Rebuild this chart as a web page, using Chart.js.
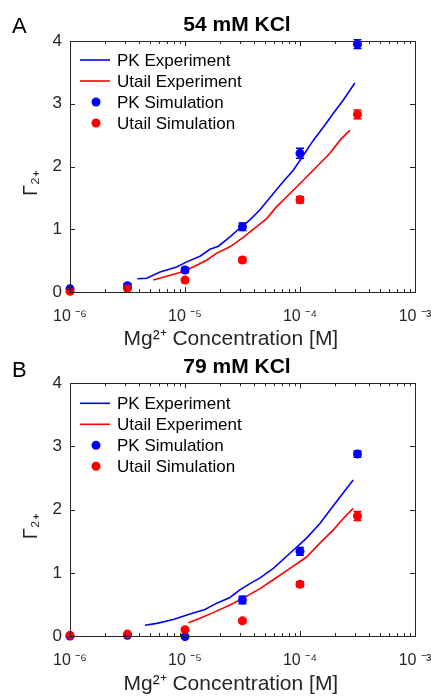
<!DOCTYPE html>
<html><head><meta charset="utf-8">
<script src="https://cdn.jsdelivr.net/npm/chart.js@4.4.1/dist/chart.umd.min.js"></script>
<style>
html,body{margin:0;padding:0;background:#fff;}
#wrap{position:relative;width:431px;height:697px;overflow:hidden;background:#fff;}
canvas{position:absolute;left:0;}
</style></head><body>
<div id="wrap">
<canvas id="cA" width="431" height="352" style="top:0px;width:431px;height:352px"></canvas>
<canvas id="cB" width="431" height="352" style="top:345px;width:431px;height:352px"></canvas>
</div>
<script>
// ---------- DATA ----------
const xTickValues = [1e-6, 1e-5, 1e-4, 1e-3];
const xTickLabels = ['10 ⁻⁶', '10 ⁻⁵', '10 ⁻⁴', '10 ⁻³'];
const yTickValues = [0, 1, 2, 3, 4];

const seriesNames = ['PK Experiment', 'Utail Experiment', 'PK Simulation', 'Utail Simulation'];

// Panel A: 54 mM KCl
const aPKExpX = [3.85e-6, 4.65e-6, 6.07e-6, 8.47e-6, 1.035e-5, 1.35e-5, 1.65e-5, 1.95e-5, 2.46e-5, 3.0e-5, 3.67e-5, 4.49e-5, 5.86e-5, 7.16e-5, 8.75e-5, 1.07e-4, 1.31e-4, 1.6e-4, 1.95e-4, 2.38e-4, 3.0e-4];
const aPKExpY = [0.21, 0.22, 0.32, 0.40, 0.48, 0.57, 0.68, 0.73, 0.88, 1.02, 1.15, 1.31, 1.57, 1.76, 1.94, 2.18, 2.42, 2.63, 2.85, 3.06, 3.33];
const aUtExpX = [5.3e-6, 6.92e-6, 9.06e-6, 1.18e-5, 1.55e-5, 1.89e-5, 2.46e-5, 3.21e-5, 4.2e-5, 5.13e-5, 6.27e-5, 8.18e-5, 1.07e-4, 1.40e-4, 1.82e-4, 2.23e-4, 2.72e-4];
const aUtExpY = [0.19, 0.25, 0.31, 0.40, 0.51, 0.62, 0.72, 0.87, 1.04, 1.17, 1.36, 1.57, 1.78, 2.00, 2.21, 2.42, 2.58];
const simX = [1e-6, 3.16e-6, 1e-5, 3.16e-5, 1e-4, 3.16e-4];
const aPKSimY = [0.05, 0.10, 0.35, 1.04, 2.21, 3.95];
const aPKSimErr = [0.02, 0.03, 0.04, 0.06, 0.08, 0.07];
const aUtSimY = [0.01, 0.06, 0.19, 0.51, 1.47, 2.83];
const aUtSimErr = [0.01, 0.02, 0.03, 0.04, 0.05, 0.07];

// Panel B: 79 mM KCl
const bPKExpX = [4.49e-6, 5.68e-6, 7.91e-6, 1.104e-5, 1.49e-5, 1.89e-5, 2.46e-5, 3.0e-5, 3.67e-5, 4.49e-5, 5.86e-5, 8.18e-5, 1.14e-4, 1.49e-4, 1.82e-4, 2.23e-4, 2.9e-4];
const bPKExpY = [0.17, 0.20, 0.26, 0.35, 0.42, 0.52, 0.61, 0.73, 0.83, 0.92, 1.07, 1.31, 1.55, 1.78, 1.99, 2.20, 2.47];
const bUtExpX = [1.07e-5, 1.35e-5, 1.76e-5, 2.46e-5, 3.21e-5, 4.49e-5, 5.86e-5, 8.18e-5, 1.14e-4, 1.49e-4, 1.95e-4, 2.38e-4, 2.9e-4];
const bUtExpY = [0.21, 0.28, 0.37, 0.49, 0.60, 0.75, 0.89, 1.07, 1.25, 1.47, 1.68, 1.86, 2.02];
const bPKSimY = [0.00, 0.01, -0.01, 0.57, 1.34, 2.88];
const bPKSimErr = [0.01, 0.01, 0.01, 0.06, 0.06, 0.05];
const bUtSimY = [0.01, 0.03, 0.10, 0.24, 0.82, 1.90];
const bUtSimErr = [0.01, 0.01, 0.02, 0.03, 0.04, 0.07];

// ---------- STYLE ----------
const BLUE = '#0000ff', RED = '#ff0000', AX = '#262626';
const FONT = "'Liberation Sans', Arial, Helvetica, sans-serif";

function pts(xs, ys) { return xs.map((x, i) => ({x: x, y: ys[i]})); }

const decoPlugin = {
  id: 'deco',
  afterDraw(chart, args, opts) {
    const ctx = chart.ctx, a = chart.chartArea;
    const xs = chart.scales.x, ys = chart.scales.y;
    ctx.save();
    // frame
    ctx.strokeStyle = AX; ctx.lineWidth = 1;
    ctx.strokeRect(Math.round(a.left) + 0.5, Math.round(a.top) + 0.5, Math.round(a.right - a.left), Math.round(a.bottom - a.top));
    ctx.beginPath();
    // x ticks (major & minor), bottom and top, inward
    for (let d = 0; d < xTickValues.length; d++) {
      const dec = xTickValues[d];
      const px = Math.round(xs.getPixelForValue(dec)) + 0.5;
      ctx.moveTo(px, a.bottom); ctx.lineTo(px, a.bottom - 5);
      ctx.moveTo(px, a.top); ctx.lineTo(px, a.top + 5);
      if (d < xTickValues.length - 1) {
        for (let m = 2; m <= 9; m++) {
          const q = Math.round(xs.getPixelForValue(dec * m)) + 0.5;
          ctx.moveTo(q, a.bottom); ctx.lineTo(q, a.bottom - 3);
          ctx.moveTo(q, a.top); ctx.lineTo(q, a.top + 3);
        }
      }
    }
    yTickValues.forEach(v => {
      const py = Math.round(ys.getPixelForValue(v)) + 0.5;
      ctx.moveTo(a.left, py); ctx.lineTo(a.left + 5, py);
      ctx.moveTo(a.right, py); ctx.lineTo(a.right - 5, py);
    });
    ctx.stroke();
    // legend
    ctx.font = '17px ' + FONT;
    ctx.textBaseline = 'middle';
    ctx.textAlign = 'left';
    chart.data.datasets.forEach((ds, i) => {
      const y = a.top + opts.legendTop + i * 21;
      if (ds.showLine) {
        ctx.strokeStyle = ds.borderColor; ctx.lineWidth = 1.6;
        ctx.beginPath(); ctx.moveTo(80, y); ctx.lineTo(110, y); ctx.stroke();
      } else {
        ctx.fillStyle = ds.backgroundColor;
        ctx.beginPath(); ctx.arc(96, y, 4.5, 0, Math.PI * 2); ctx.fill();
      }
      ctx.fillStyle = '#000';
      ctx.fillText(ds.label, 117, y + 1);
    });
    // title and panel letter
    ctx.fillStyle = '#000';
    ctx.textBaseline = 'alphabetic';
    ctx.textAlign = 'center';
    ctx.font = 'bold 21px ' + FONT;
    ctx.fillText(opts.title, opts.titleX, opts.titleBase);
    ctx.textAlign = 'left';
    ctx.font = '22px ' + FONT;
    ctx.fillText(opts.letter, 12, opts.letterBase);
    ctx.restore();
  },
  afterDatasetsDraw(chart) {
    const ctx = chart.ctx, xs = chart.scales.x, ys = chart.scales.y;
    ctx.save();
    chart.data.datasets.forEach(ds => {
      if (!ds.errors) return;
      ctx.strokeStyle = ds.backgroundColor; ctx.lineWidth = 1.5;
      ctx.beginPath();
      ds.data.forEach((p, i) => {
        const px = xs.getPixelForValue(p.x);
        const y1 = ys.getPixelForValue(p.y - ds.errors[i]);
        const y2 = ys.getPixelForValue(p.y + ds.errors[i]);
        ctx.moveTo(px, y1); ctx.lineTo(px, y2);
        ctx.moveTo(px - 4, y1); ctx.lineTo(px + 4, y1);
        ctx.moveTo(px - 4, y2); ctx.lineTo(px + 4, y2);
      });
      ctx.stroke();
    });
    ctx.restore();
  }
};

function makeChart(id, cfg) {
  const H = 352;
  const datasets = [
    {label: seriesNames[0], data: pts(cfg.pkX, cfg.pkY), showLine: true, borderColor: BLUE, backgroundColor: BLUE, borderWidth: 1.6, pointRadius: 0, order: 3, tension: 0},
    {label: seriesNames[1], data: pts(cfg.utX, cfg.utY), showLine: true, borderColor: RED, backgroundColor: RED, borderWidth: 1.6, pointRadius: 0, order: 3, tension: 0},
    {label: seriesNames[2], data: pts(simX, cfg.pkSimY), errors: cfg.pkSimErr, showLine: false, backgroundColor: BLUE, borderColor: BLUE, borderWidth: 0, pointRadius: 4.5, order: 2, clip: false},
    {label: seriesNames[3], data: pts(simX, cfg.utSimY), errors: cfg.utSimErr, showLine: false, backgroundColor: RED, borderColor: RED, borderWidth: 0, pointRadius: 4.5, order: 1, clip: false}
  ];
  return new Chart(document.getElementById(id), {
    type: 'scatter',
    data: {datasets},
    plugins: [decoPlugin],
    options: {
      responsive: false, animation: false, events: [],
      devicePixelRatio: 1,
      layout: {padding: {left: 0, right: 16, top: cfg.areaTop, bottom: 0}},
      plugins: {
        legend: {display: false}, tooltip: {enabled: false}, title: {display: false},
        deco: {title: cfg.title, letter: cfg.letter, titleX: 237, titleBase: cfg.titleBase, letterBase: cfg.letterBase, legendTop: cfg.legendTop}
      },
      scales: {
        x: {
          type: 'logarithmic', position: 'bottom', min: 1e-6, max: 1e-3,
          grid: {display: false, drawTicks: false}, border: {display: false},
          afterBuildTicks: s => { s.ticks = xTickValues.map(v => ({value: v})); },
          afterFit: s => { s.height = H - cfg.areaBottom; s.paddingLeft = 0; s.paddingRight = 0; },
          ticks: {autoSkip: false, maxRotation: 0, padding: 15, color: AX, font: {family: FONT, size: 16},
            callback: (v) => { const i = xTickValues.indexOf(v); return i >= 0 ? xTickLabels[i] : ''; }},
          title: {display: true, text: 'Mg²⁺ Concentration [M]    ', color: AX, font: {family: FONT, size: 21}, padding: {top: 0, bottom: 0.5}}
        },
        y: {
          type: 'linear', position: 'left', min: 0, max: 4,
          grid: {display: false, drawTicks: false}, border: {display: false},
          afterBuildTicks: s => { s.ticks = yTickValues.map(v => ({value: v})); },
          afterFit: s => { s.width = 70; s.paddingTop = 0; s.paddingBottom = 0; },
          ticks: {padding: 8, color: AX, font: {family: FONT, size: 17}},
          title: {display: true, text: 'Γ₂₊      ', color: AX, font: {family: FONT, size: 20}, padding: {top: 19, bottom: 0}}
        }
      }
    }
  });
}

makeChart('cA', {title: '54 mM KCl', letter: 'A', areaTop: 41, areaBottom: 292, titleBase: 31, letterBase: 33, legendTop: 19,
  pkX: aPKExpX, pkY: aPKExpY, utX: aUtExpX, utY: aUtExpY, pkSimY: aPKSimY, pkSimErr: aPKSimErr, utSimY: aUtSimY, utSimErr: aUtSimErr});
makeChart('cB', {title: '79 mM KCl', letter: 'B', areaTop: 38.3, areaBottom: 291, titleBase: 28.3, letterBase: 31.7, legendTop: 20,
  pkX: bPKExpX, pkY: bPKExpY, utX: bUtExpX, utY: bUtExpY, pkSimY: bPKSimY, pkSimErr: bPKSimErr, utSimY: bUtSimY, utSimErr: bUtSimErr});
</script>
</body></html>
